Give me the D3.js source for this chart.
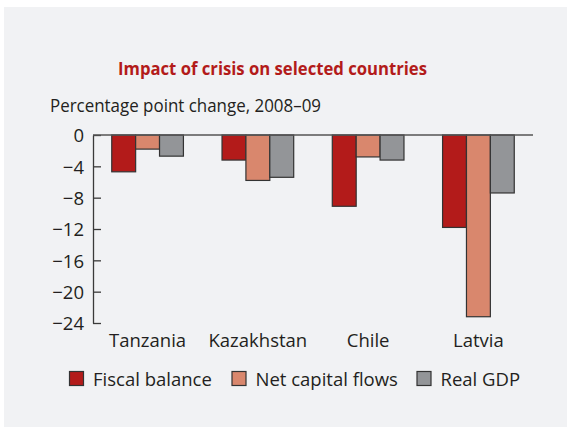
<!DOCTYPE html>
<html>
<head>
<meta charset="utf-8">
<script src="https://cdn.jsdelivr.net/npm/d3@7"></script>
<style>
  body { margin: 0; background: #fff; }
  text { font-family: "Open Sans", "Noto Sans", sans-serif; fill: #231f20; }
</style>
</head>
<body>
<script>
var svgWidth = 569;
var svgHeight = 427;

// data
var countries = ["Tanzania", "Kazakhstan", "Chile", "Latvia"];
var seriesNames = ["Fiscal balance", "Net capital flows", "Real GDP"];
var fiscalBalance = [-4.7, -3.2, -9.1, -11.8];
var netCapitalFlows = [-1.8, -5.8, -2.8, -23.2];
var realGDP = [-2.7, -5.4, -3.2, -7.4];
var yTicks = [0, -4, -8, -12, -16, -20, -24];
var colors = ["#b31b1a", "#d9876d", "#939598"];

var series = [fiscalBalance, netCapitalFlows, realGDP];

var svg = d3.select("body")
  .append("svg")
  .attr("width", svgWidth)
  .attr("height", svgHeight);

// panel background
svg.append("rect")
  .attr("x", 4).attr("y", 7)
  .attr("width", 563).attr("height", 420)
  .attr("fill", "#f1f2f4");

svg.append("text")
  .attr("x", 272.5).attr("y", 75)
  .attr("text-anchor", "middle")
  .style("font-weight", "bold")
  .style("font-size", "18.5px")
  .style("fill", "#b31b1a")
  .attr("textLength", 309)
  .attr("lengthAdjust", "spacingAndGlyphs")
  .text("Impact of crisis on selected countries");

svg.append("text")
  .attr("x", 50).attr("y", 112)
  .style("font-size", "19px")
  .attr("textLength", 271)
  .attr("lengthAdjust", "spacingAndGlyphs")
  .text("Percentage point change, 2008\u201309");

var left = 93, right = 533;

var y = d3.scaleLinear()
  .domain([-24, 0])
  .range([323, 135]);

var x0 = d3.scaleBand()
  .domain(countries)
  .range([left, right])
  .paddingInner(0.35)
  .paddingOuter(0.17);

var x1 = d3.scaleBand()
  .domain(d3.range(series.length))
  .range([0, x0.bandwidth()]);

// y axis, ticks pointing into the chart
var yAxis = svg.append("g")
  .attr("transform", "translate(" + left + ",0)")
  .call(d3.axisLeft(y).tickValues(yTicks).tickSizeInner(-8).tickSizeOuter(0).tickPadding(9)
    .tickFormat(d => d === 0 ? "0" : "\u2212" + Math.abs(d)));
yAxis.selectAll("path, line").attr("stroke", "#3a3a3a").attr("stroke-width", 1.3);
yAxis.selectAll("text")
  .style("font-size", "18.5px")
  .style("font-family", "'Open Sans', sans-serif")
  .attr("fill", "#231f20")
  .attr("dy", "0.36em");

// bars
var groups = svg.selectAll(".country")
  .data(countries)
  .enter().append("g")
  .attr("class", "country")
  .attr("transform", c => "translate(" + x0(c) + ",0)");

groups.selectAll("rect")
  .data((c, i) => series.map((s, j) => ({ k: j, v: s[i] })))
  .enter().append("rect")
  .attr("x", d => x1(d.k))
  .attr("width", x1.bandwidth())
  .attr("y", y(0))
  .attr("height", d => y(d.v) - y(0))
  .attr("fill", d => colors[d.k])
  .attr("stroke", "#333")
  .attr("stroke-width", 1.2);

// zero line
svg.append("line")
  .attr("x1", left).attr("x2", right)
  .attr("y1", y(0)).attr("y2", y(0))
  .attr("stroke", "#555")
  .attr("stroke-width", 1.3);

// category labels
svg.selectAll(".cat")
  .data(countries)
  .enter().append("text")
  .attr("class", "cat")
  .attr("x", c => x0(c) + x0.bandwidth() / 2)
  .attr("y", 347)
  .attr("text-anchor", "middle")
  .style("font-size", "18.5px")
  .text(c => c);

// legend
var legendX = [69.5, 232, 417];
var legend = svg.selectAll(".legend")
  .data(seriesNames)
  .enter().append("g")
  .attr("class", "legend")
  .attr("transform", (d, i) => "translate(" + legendX[i] + ",371.5)");

legend.append("rect")
  .attr("width", 14).attr("height", 14)
  .attr("fill", (d, i) => colors[i])
  .attr("stroke", "#333")
  .attr("stroke-width", 1.2);

legend.append("text")
  .attr("x", 23.5).attr("y", 14.5)
  .style("font-size", "18.5px")
  .text(d => d);
</script>
</body>
</html>
